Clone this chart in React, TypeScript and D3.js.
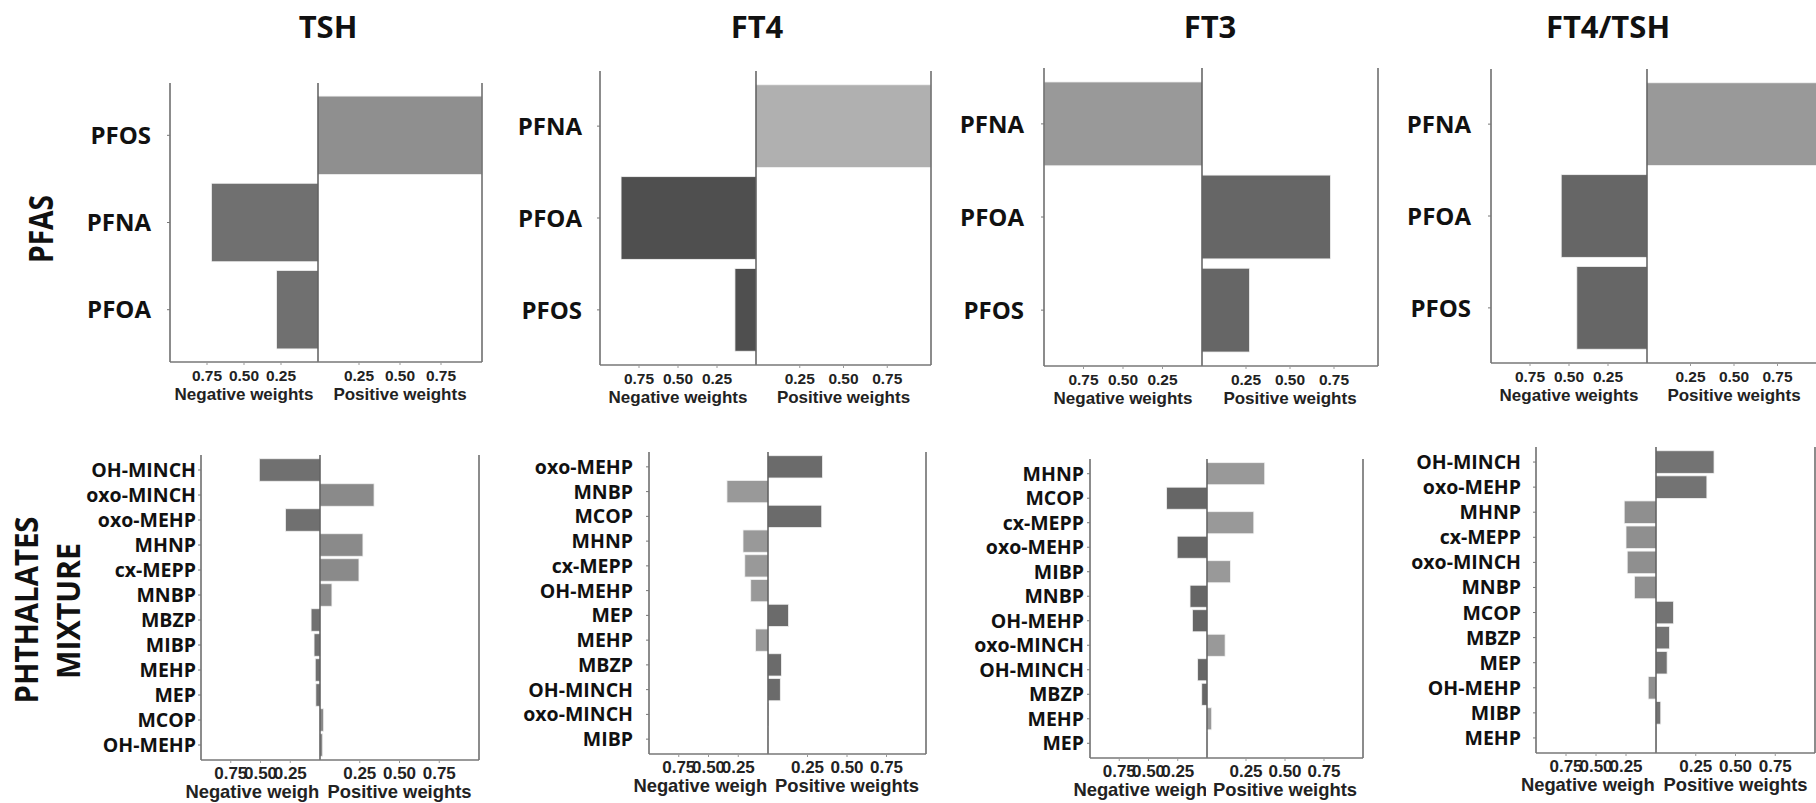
import React from "react";
import * as d3 from "d3";

// column titles (outcomes)
const outcomes = ["TSH", "FT4", "FT3", "FT4/TSH"];

// PFAS weights, signed: positive -> positive weights, negative -> negative weights
const pfasTSHNames = ["PFOS", "PFNA", "PFOA"];
const pfasTSHWeights = [1.0, -0.72, -0.28];
const pfasFT4Names = ["PFNA", "PFOA", "PFOS"];
const pfasFT4Weights = [1.0, -0.865, -0.135];
const pfasFT3Names = ["PFNA", "PFOA", "PFOS"];
const pfasFT3Weights = [-1.0, 0.73, 0.27];
const pfasRatioNames = ["PFNA", "PFOA", "PFOS"];
const pfasRatioWeights = [1.0, -0.55, -0.45];

// phthalate mixture weights
const phtTSHNames = ["OH-MINCH", "oxo-MINCH", "oxo-MEHP", "MHNP", "cx-MEPP", "MNBP", "MBZP", "MIBP", "MEHP", "MEP", "MCOP", "OH-MEHP"];
const phtTSHWeights = [-0.51, 0.34, -0.29, 0.27, 0.245, 0.075, -0.075, -0.05, -0.04, -0.035, 0.023, 0.017];
const phtFT4Names = ["oxo-MEHP", "MNBP", "MCOP", "MHNP", "cx-MEPP", "OH-MEHP", "MEP", "MEHP", "MBZP", "OH-MINCH", "oxo-MINCH", "MIBP"];
const phtFT4Weights = [0.345, -0.345, 0.34, -0.21, -0.195, -0.145, 0.13, -0.105, 0.085, 0.078, 0.003, -0.004];
const phtFT3Names = ["MHNP", "MCOP", "cx-MEPP", "oxo-MEHP", "MIBP", "MNBP", "OH-MEHP", "oxo-MINCH", "OH-MINCH", "MBZP", "MEHP", "MEP"];
const phtFT3Weights = [0.37, -0.345, 0.3, -0.255, 0.15, -0.145, -0.125, 0.116, -0.08, -0.045, 0.03, 0.005];
const phtRatioNames = ["OH-MINCH", "oxo-MEHP", "MHNP", "cx-MEPP", "oxo-MINCH", "MNBP", "MCOP", "MBZP", "MEP", "OH-MEHP", "MIBP", "MEHP"];
const phtRatioWeights = [0.365, 0.32, -0.265, -0.25, -0.24, -0.18, 0.11, 0.085, 0.07, -0.065, 0.03, 0.003];

const xTicks = [0.25, 0.5, 0.75];

// layout of the 8 small plots (pixel frames, fills)
const titleX = [328, 757, 1210, 1608];
const panels = [
  { names: pfasTSHNames, weights: pfasTSHWeights, row: 0, x0: 170, xz: 318, x1: 482, y0: 83, y1: 362, gap: 19, pos: "#8f8f8f", neg: "#707070" },
  { names: pfasFT4Names, weights: pfasFT4Weights, row: 0, x0: 600, xz: 756, x1: 931, y0: 71, y1: 365, gap: 18, pos: "#b0b0b0", neg: "#4f4f4f" },
  { names: pfasFT3Names, weights: pfasFT3Weights, row: 0, x0: 1044, xz: 1202, x1: 1378, y0: 68, y1: 366, gap: 20, pos: "#666666", neg: "#999999" },
  { names: pfasRatioNames, weights: pfasRatioWeights, row: 0, x0: 1491, xz: 1647, x1: 1821, y0: 69, y1: 363, gap: 20, pos: "#999999", neg: "#666666" },
  { names: phtTSHNames, weights: phtTSHWeights, row: 1, x0: 201, xz: 320, x1: 479, y0: 455, y1: 760, gap: 5, pos: "#8a8a8a", neg: "#707070" },
  { names: phtFT4Names, weights: phtFT4Weights, row: 1, x0: 649, xz: 768, x1: 926, y0: 452, y1: 754, gap: 16, pos: "#6b6b6b", neg: "#999999" },
  { names: phtFT3Names, weights: phtFT3Weights, row: 1, x0: 1090, xz: 1207, x1: 1363, y0: 459, y1: 758, gap: 6, pos: "#999999", neg: "#666666" },
  { names: phtRatioNames, weights: phtRatioWeights, row: 1, x0: 1536, xz: 1656, x1: 1815, y0: 447, y1: 753, gap: 15, pos: "#737373", neg: "#8f8f8f" },
];

const rowFonts = [
  { label: 24, tick: 15.5, axis: 17 },
  { label: 19.5, tick: 17, axis: 18.4 },
];

const LABEL_FONT = "'Open Sans', 'DejaVu Sans', sans-serif";
const AXIS_FONT = "'Liberation Sans', Arial, sans-serif";
const fmt = d3.format(".2f");

function Panel({ p, idx }) {
  const { x0, xz, x1, y0, y1 } = p;
  const f = rowFonts[p.row];
  const neg = d3.scaleLinear().domain([0, 1]).range([xz, x0]);
  const pos = d3.scaleLinear().domain([0, 1]).range([xz, x1]);
  const y = d3.scaleBand().domain(p.names).range([y0, y1]).paddingInner(0.1).paddingOuter(0.15);
  const clipId = "negclip" + idx;

  return (
    <g>
      <defs>
        <clipPath id={clipId}>
          <rect x={x0 - 120} y={y1} width={xz - 1 - (x0 - 120)} height={60} />
        </clipPath>
      </defs>

      {/* bars */}
      {p.names.map((n, i) => {
        const w = p.weights[i];
        const left = w < 0 ? neg(-w) : xz;
        const right = w < 0 ? xz : pos(w);
        return (
          <rect
            key={n}
            x={left}
            y={y(n)}
            width={Math.max(right - left, 0.5)}
            height={y.bandwidth()}
            fill={w < 0 ? p.neg : p.pos}
            stroke="#f2f2f2"
            strokeWidth={0.8}
          />
        );
      })}

      {/* axes frame */}
      <line x1={x0} x2={x0} y1={y0} y2={y1} stroke="#666" strokeWidth={1.5} />
      <line x1={xz} x2={xz} y1={y0} y2={y1} stroke="#444" strokeWidth={1.3} />
      <line x1={x1} x2={x1} y1={y0} y2={y1} stroke="#666" strokeWidth={1.5} />
      <line x1={x0} x2={x1} y1={y1} y2={y1} stroke="#777" strokeWidth={1.5} />

      {/* y ticks + labels */}
      {p.names.map((n) => {
        const cy = y(n) + y.bandwidth() / 2;
        return (
          <g key={"t" + n}>
            <line x1={x0 - 3} x2={x0} y1={cy} y2={cy} stroke="#777" strokeWidth={1} />
            <text
              x={x0 - p.gap}
              y={cy}
              dy="0.36em"
              textAnchor="end"
              fontFamily={LABEL_FONT}
              fontWeight={700}
              fontSize={f.label}
              fill="#111"
            >
              {n}
            </text>
          </g>
        );
      })}

      {/* x ticks */}
      {xTicks.map((t) => (
        <g key={"n" + t}>
          <line x1={neg(t)} x2={neg(t)} y1={y1} y2={y1 + 3} stroke="#999" strokeWidth={1} />
          <text x={neg(t)} y={y1 + 18.5} textAnchor="middle" fontFamily={AXIS_FONT} fontWeight={700} fontSize={f.tick} fill="#222">
            {fmt(t)}
          </text>
        </g>
      ))}
      {xTicks.map((t) => (
        <g key={"p" + t}>
          <line x1={pos(t)} x2={pos(t)} y1={y1} y2={y1 + 3} stroke="#999" strokeWidth={1} />
          <text x={pos(t)} y={y1 + 18.5} textAnchor="middle" fontFamily={AXIS_FONT} fontWeight={700} fontSize={f.tick} fill="#222">
            {fmt(t)}
          </text>
        </g>
      ))}

      {/* axis titles */}
      <text
        x={(x0 + xz) / 2}
        y={y1 + 37.5}
        textAnchor="middle"
        fontFamily={AXIS_FONT}
        fontWeight={700}
        fontSize={f.axis}
        fill="#222"
        clipPath={`url(#${clipId})`}
      >
        Negative weights
      </text>
      <text x={(xz + x1) / 2} y={y1 + 37.5} textAnchor="middle" fontFamily={AXIS_FONT} fontWeight={700} fontSize={f.axis} fill="#222">
        Positive weights
      </text>
    </g>
  );
}

export default function App() {
  const W = 1816;
  const H = 803;
  return (
    <svg
      width={W}
      height={H}
      style={{ position: "absolute", left: 0, top: 0, display: "block", background: "#fff" }}
    >
      <rect width={W} height={H} fill="#fff" />
      {outcomes.map((o, i) => (
        <text key={o} x={titleX[i]} y={38} textAnchor="middle" fontFamily={LABEL_FONT} fontWeight={700} fontSize={31} fill="#111">
          {o}
        </text>
      ))}

      <text transform="translate(53,229) rotate(-90)" textAnchor="middle" fontFamily={LABEL_FONT} fontWeight={700} fontSize={34} textLength={68} lengthAdjust="spacingAndGlyphs" fill="#111">
        PFAS
      </text>
      <text transform="translate(38,610) rotate(-90)" textAnchor="middle" fontFamily={LABEL_FONT} fontWeight={700} fontSize={32} textLength={187} lengthAdjust="spacingAndGlyphs" fill="#111">
        PHTHALATES
      </text>
      <text transform="translate(80,611) rotate(-90)" textAnchor="middle" fontFamily={LABEL_FONT} fontWeight={700} fontSize={32} textLength={136} lengthAdjust="spacingAndGlyphs" fill="#111">
        MIXTURE
      </text>

      {panels.map((p, i) => (
        <Panel key={i} p={p} idx={i} />
      ))}
    </svg>
  );
}
